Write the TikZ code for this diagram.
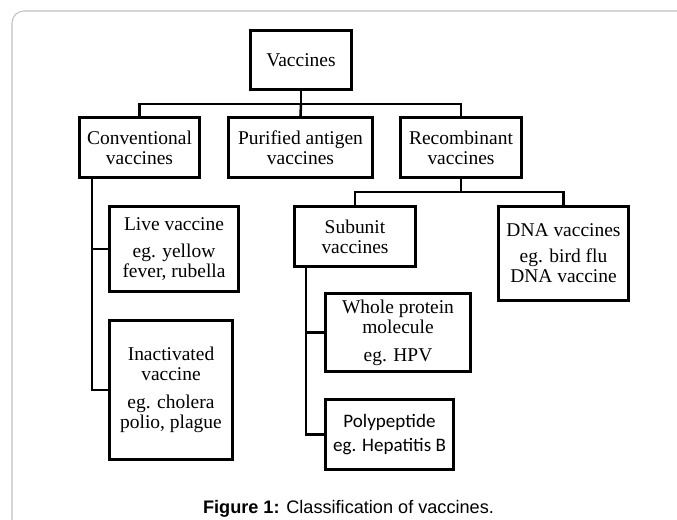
\documentclass[tikz,border=0pt]{standalone}
\usepackage{fontspec}
\setmainfont{Liberation Serif}
\newfontfamily\calibrifont{Carlito}
\newfontfamily\arialfont{Liberation Sans}
\begin{document}
\begin{tikzpicture}[x=0.75pt,y=-0.75pt,
    box/.style={draw, line width=2pt, inner sep=0pt, align=center,
        font=\fontsize{14.6}{15}\selectfont},
    link/.style={line width=1.9pt}]

    \useasboundingbox (0,0) rectangle (677,520);
    \clip (0,0) rectangle (677,520);
    \draw[gray!50, line width=0.8pt, rounded corners=9] (12,11) rectangle (720,560);

    %top level
    \node[box, minimum width=76.1pt, minimum height=44.6pt] (vac) at (301,60) {Vaccines};
    \node[box, minimum width=90.4pt, minimum height=45.4pt] (conv) at (139.5,147.5) {Conventional\\vaccines};
    \node[box, minimum width=108.4pt, minimum height=45.4pt] (pur) at (300.5,147.5) {Purified antigen\\vaccines};
    \node[box, minimum width=91.1pt, minimum height=45.4pt] (rec) at (461,147.5) {Recombinant\\vaccines};

    %recombinant
    \node[box, minimum width=91.1pt, minimum height=45.4pt] (sub) at (355,236.5) {Subunit\\vaccines};
    \node[box, minimum width=97.9pt, minimum height=70.9pt] (dna) at (563.5,253.5) {DNA vaccines\\[4.5pt]eg. bird flu\\DNA vaccine};
    \node[box, minimum width=109.1pt, minimum height=58.9pt] (whole) at (398,332.5) {Whole protein\\molecule\\[6pt]eg. HPV};
    \node[box, minimum width=96.4pt, minimum height=52.9pt,
        font=\calibrifont\fontsize{14.3}{18}\selectfont] (poly) at (389.5,434.5) {Polypeptide\\eg. Hepatitis B};

    %conventional
    \node[box, minimum width=97.1pt, minimum height=64.1pt] (live) at (174,249) {Live vaccine\\[5.25pt]eg. yellow\\fever, rubella};
    \node[box, minimum width=92.6pt, minimum height=104.6pt] (inact) at (171,390) {Inactivated\\vaccine\\[6.5pt]eg. cholera\\polio, plague};

    %links
    \coordinate (topbus) at (301,104);
    \draw[link] (vac.south) -- (topbus);
    \draw[link] (conv.north) |- (topbus) -| (rec.north);
    \draw[link] (topbus) -- (pur.north);
    \coordinate (recbus) at (461,192);
    \draw[link] (rec.south) -- (recbus);
    \draw[link] (sub.north) |- (recbus) -| (dna.north);
    \draw[link] (conv.south west) ++(14,0) |- (inact.west);
    \draw[link] (live.west) -- ++(-16,0);
    \draw[link] (sub.south west) ++(13,0) |- (poly.west);
    \draw[link] (whole.west) -- ++(-18,0);

    \node[font=\arialfont\fontsize{13.6}{16}\selectfont, anchor=base] (cap) at (348.5,513)
        {\textbf{Figure 1:} Classification of vaccines.};

\end{tikzpicture}
\end{document}
